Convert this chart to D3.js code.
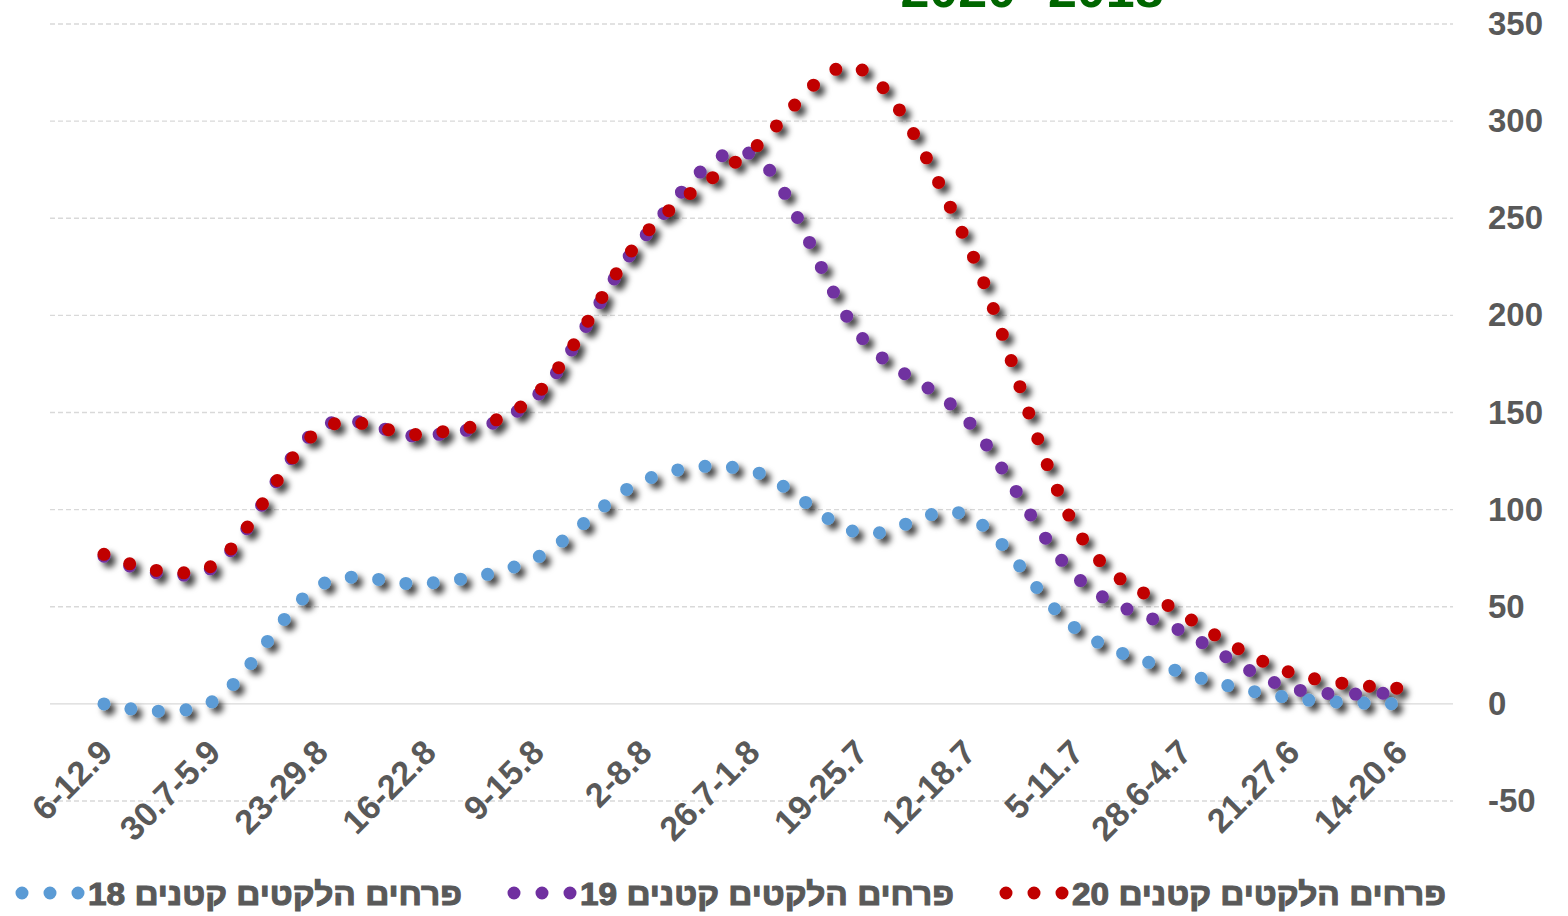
<!DOCTYPE html>
<html>
<head>
<meta charset="utf-8">
<script src="https://cdn.jsdelivr.net/npm/d3@7"></script>
<style>
  body { margin: 0; background: #fff; }
  text { font-family: "Liberation Sans", Arial, sans-serif; font-weight: bold; }
</style>
</head>
<body>
<script>

// weeks, shown left to right (latest week on the left)
let weeks = ["6-12.9", "30.7-5.9", "23-29.8", "16-22.8", "9-15.8", "2-8.8", "26.7-1.8",
  "19-25.7", "12-18.7", "5-11.7", "28.6-4.7", "21.27.6", "14-20.6"];

// weekly values per season
let small18 = [0, 1, 61, 62, 75, 115, 120, 88, 97, 39, 16, 3, 0];
let small19 = [76, 70, 142, 138, 158, 240, 283, 190, 146, 66, 37, 8, 6];
let small20 = [77, 71, 141, 139, 159, 241, 285, 327, 237, 91, 46, 16, 8];

// series names and y ticks
let seriesNames = ["פרחים הלקטים קטנים 18", "פרחים הלקטים קטנים 19", "פרחים הלקטים קטנים 20"];
let yTicks = [-50, 0, 50, 100, 150, 200, 250, 300, 350];
let title = "2020 -2018";

let colors = ["#5B9BD5", "#7030A0", "#C00000"];
let series = [small18, small19, small20];

let width = 1568;
let height = 916;
let plotLeft = 50, plotRight = 1453, plotTop = 24, plotBottom = 801;

let svg = d3.select("body").append("svg").attr("width", width).attr("height", height);

// drop shadow for the dotted lines
let defs = svg.append("defs");
defs.append("filter")
  .attr("id", "shadow")
  .attr("x", "-10%").attr("y", "-10%").attr("width", "120%").attr("height", "130%")
  .append("feDropShadow")
  .attr("dx", 5).attr("dy", 5)
  .attr("stdDeviation", 3)
  .attr("flood-color", "#000")
  .attr("flood-opacity", 0.75);

// x scale: one band per week, points at band centres
let xScale = d3.scaleBand()
  .domain(weeks)
  .range([plotLeft, plotRight]);

let yScale = d3.scaleLinear()
  .domain([-50, 350])
  .range([plotBottom, plotTop]);

// grid lines
svg.append("g")
  .selectAll("line")
  .data(yTicks)
  .enter()
  .append("line")
  .attr("x1", plotLeft)
  .attr("x2", plotRight)
  .attr("y1", d => yScale(d))
  .attr("y2", d => yScale(d))
  .attr("stroke", "#d9d9d9")
  .attr("stroke-width", 1.3)
  .attr("stroke-dasharray", d => d === 0 ? null : "5,3");

// y axis on the right
let yAxis = svg.append("g")
  .attr("transform", "translate(1488,0)")
  .call(d3.axisRight(yScale).tickValues(yTicks).tickFormat(d => String(d)).tickSize(0).tickPadding(0));
yAxis.select(".domain").remove();
yAxis.selectAll("text")
  .attr("fill", "#595959")
  .attr("font-size", 33)
  .attr("font-family", "Liberation Sans, Arial, sans-serif")
  .attr("font-weight", "bold");

// x axis labels, rotated
let xAxis = svg.append("g")
  .attr("transform", "translate(0," + 752 + ")")
  .call(d3.axisBottom(xScale).tickSize(0).tickPadding(0));
xAxis.select(".domain").remove();
xAxis.selectAll("text")
  .attr("fill", "#595959")
  .attr("font-size", 34)
  .attr("font-family", "Liberation Sans, Arial, sans-serif")
  .attr("font-weight", "bold")
  .attr("text-anchor", "end")
  .attr("dy", "0.35em")
  .attr("transform", "translate(2,-6) rotate(-45)");

// dotted smooth lines
let line = d3.line()
  .x((d, i) => xScale(weeks[i]) + xScale.bandwidth() / 2)
  .y(d => yScale(d))
  .curve(d3.curveCardinal.tension(0));

svg.append("g")
  .attr("filter", "url(#shadow)")
  .selectAll("path")
  .data(series)
  .enter()
  .append("path")
  .attr("d", line)
  .attr("fill", "none")
  .attr("stroke", (d, i) => colors[i])
  .attr("stroke-width", 13)
  .attr("stroke-linecap", "round")
  .attr("stroke-dasharray", "0,27.5");

// legend
let legendX = [18, 510, 1002];
let legend = svg.append("g")
  .selectAll("g")
  .data(seriesNames)
  .enter()
  .append("g")
  .attr("transform", (d, i) => "translate(" + legendX[i] + ",893)");

legend.append("line")
  .attr("x1", 4).attr("x2", 61)
  .attr("stroke", (d, i) => colors[i])
  .attr("stroke-width", 13)
  .attr("stroke-linecap", "round")
  .attr("stroke-dasharray", "0,28");

legend.append("text")
  .attr("x", 444)
  .attr("y", 12)
  .attr("direction", "rtl")
  .attr("text-anchor", "start")
  .attr("fill", "#595959")
  .attr("stroke", "#595959")
  .attr("stroke-width", 1.1)
  .attr("font-size", 32)
  .attr("font-family", "DejaVu Sans, Liberation Sans, sans-serif")
  .attr("font-weight", "bold")
  .attr("textLength", 374)
  .attr("lengthAdjust", "spacingAndGlyphs")
  .text(d => d);

// title, mostly above the picture
svg.append("text")
  .attr("x", 1032)
  .attr("y", 7)
  .attr("text-anchor", "middle")
  .attr("fill", "#006600")
  .attr("font-size", 52)
  .text(title);

</script>
</body>
</html>
